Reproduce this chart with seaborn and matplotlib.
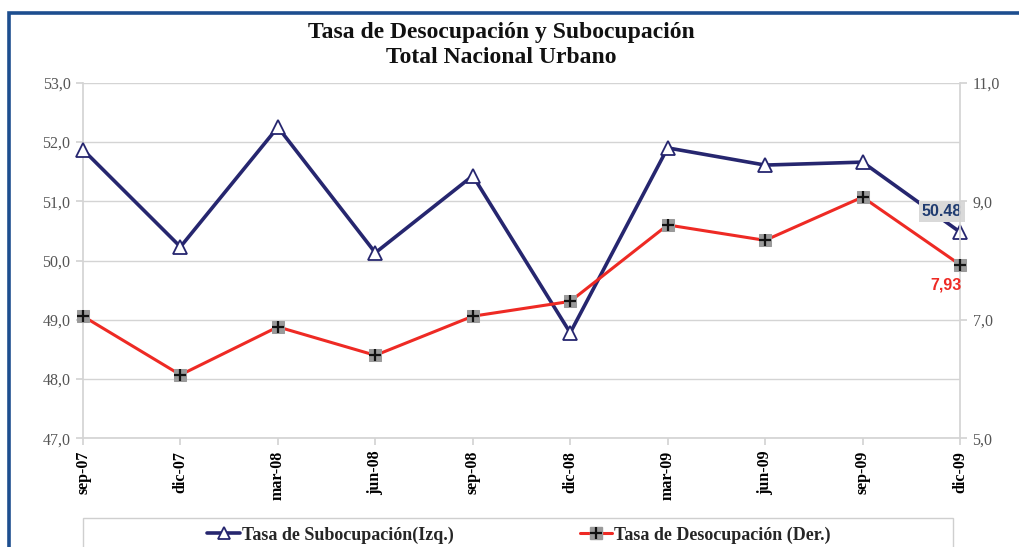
import matplotlib
matplotlib.use("Agg")
import matplotlib.pyplot as plt
from matplotlib.lines import Line2D
from matplotlib.patches import Rectangle
from matplotlib.legend_handler import HandlerTuple
from matplotlib.ticker import FuncFormatter
import seaborn as sns
import pandas as pd

# Quarterly periods
periodos = ["sep-07", "dic-07", "mar-08", "jun-08", "sep-08",
            "dic-08", "mar-09", "jun-09", "sep-09", "dic-09"]
# Underemployment rate (left axis)
subocupacion = [51.87, 50.23, 52.25, 50.13, 51.43, 48.78, 51.90, 51.61, 51.66, 50.48]
# Unemployment rate (right axis)
desocupacion = [7.06, 6.07, 6.88, 6.40, 7.06, 7.31, 8.60, 8.34, 9.07, 7.93]

left_ticks = [47, 48, 49, 50, 51, 52, 53]
right_ticks = [5, 7, 9, 11]

NAVY = "#26266f"
RED = "#ee2a24"
GRID = "#d4d4d4"
TICK_TXT = "#555555"
SERIF = "Liberation Serif"

sns.set_theme(style="white")
plt.rcParams["font.family"] = [SERIF, "DejaVu Sans"]

df = pd.DataFrame({"idx": range(len(periodos)), "periodo": periodos,
                   "sub": subocupacion, "des": desocupacion})

fig = plt.figure(figsize=(10.2, 5.47), dpi=100)
ax = fig.add_axes([83 / 1020, 1 - 438.3 / 547, (960 - 83) / 1020, (438.3 - 82.7) / 547])
ax2 = ax.twinx()

# Left series: underemployment
sns.lineplot(data=df, x="idx", y="sub", ax=ax, color=NAVY, lw=2.6,
             marker="^", markersize=10, markerfacecolor="white",
             markeredgecolor=NAVY, markeredgewidth=1.3, zorder=5, clip_on=False)

# Right series: unemployment, gray square with black cross marker
sns.lineplot(data=df, x="idx", y="des", ax=ax2, color=RED, lw=2.2,
             marker="s", markersize=8, markerfacecolor="#9a9a9a",
             markeredgecolor="#9a9a9a", zorder=4, clip_on=False)
ax2.plot(df["idx"], df["des"], ls="none", marker="+", markersize=9,
         markeredgewidth=1.6, color="#111111", zorder=6, clip_on=False)

ax.set_xlim(0, len(periodos) - 1)
ax.set_ylim(47, 53)
ax2.set_ylim(5, 11)
ax.set_yticks(left_ticks)
ax2.set_yticks(right_ticks)
fmt = FuncFormatter(lambda v, p: f"{v:.1f}".replace(".", ","))
ax.yaxis.set_major_formatter(fmt)
ax2.yaxis.set_major_formatter(fmt)

ax.set_xticks(list(df["idx"]))
ax.set_xticklabels(periodos, rotation=90, fontsize=11.5, fontweight="bold",
                   color="black", family=SERIF)
ax.set_xlabel("")
ax.set_ylabel("")
ax2.set_ylabel("")

ax.grid(axis="y", color=GRID, lw=1.0)
ax.set_axisbelow(True)
for a in (ax, ax2):
    for s in a.spines.values():
        s.set_visible(False)
ax.spines["left"].set_visible(True)
ax.spines["left"].set_color(GRID)
ax.spines["bottom"].set_visible(True)
ax.spines["bottom"].set_color(GRID)
ax2.spines["right"].set_visible(True)
ax2.spines["right"].set_color(GRID)

ax.tick_params(axis="y", left=True, length=5, color=GRID, labelsize=11.5,
               labelcolor=TICK_TXT, pad=4)
ax.tick_params(axis="x", bottom=True, length=5, color=GRID, pad=4)
ax2.tick_params(axis="y", right=True, length=5, color=GRID, labelsize=11.5,
                labelcolor=TICK_TXT, pad=4)
for lab in ax.get_yticklabels() + ax2.get_yticklabels():
    lab.set_family(SERIF)

# Value labels on the last period
last = len(periodos) - 1
ax.annotate(f"{subocupacion[-1]:.2f}", xy=(last, subocupacion[-1]),
            xytext=(-13, 15), textcoords="offset points", ha="center", va="center",
            fontsize=11.5, fontweight="bold", color="#1f3b70", family="Liberation Sans",
            bbox=dict(boxstyle="square,pad=0.2", fc="#d9d9d9", ec="none"), zorder=8)
ax2.annotate(f"{desocupacion[-1]:.2f}".replace(".", ","), xy=(last, desocupacion[-1]),
             xytext=(-10, -15), textcoords="offset points", ha="center", va="center",
             fontsize=11.5, fontweight="bold", color=RED, family="Liberation Sans",
             zorder=8)

# Title
fig.text(501 / 1020, 1 - 45 / 547,
         "Tasa de Desocupación y Subocupación\nTotal Nacional Urbano",
         ha="center", va="center", fontsize=17, fontweight="bold",
         family=SERIF, color="#111111", linespacing=1.25)

# Outer frame
fig.patches.append(Rectangle((9 / 1020, -0.2), 1.2, 1.2 - 13 / 547,
                             transform=fig.transFigure, fill=False,
                             ec="#1d4e8f", lw=2.6, zorder=0))

# Legend box
fig.patches.append(Rectangle((83 / 1020, -0.1), (953 - 83) / 1020, 0.1 + 1 - 518 / 547,
                             transform=fig.transFigure, fc="white",
                             ec="#cfcfcf", lw=1.0, zorder=1))

h_sub = Line2D([], [], color=NAVY, lw=2.6, marker="^", markersize=9,
               markerfacecolor="white", markeredgecolor=NAVY, markeredgewidth=1.3)
h_des_a = Line2D([], [], color=RED, lw=2.2, marker="s", markersize=8,
                 markerfacecolor="#9a9a9a", markeredgecolor="#9a9a9a")
h_des_b = Line2D([], [], ls="none", marker="+", markersize=9,
                 markeredgewidth=1.6, color="#111111")
leg = fig.legend([h_sub, (h_des_a, h_des_b)],
                 ["Tasa de Subocupación(Izq.)", "Tasa de Desocupación (Der.)"],
                 handler_map={tuple: HandlerTuple(ndivide=1)},
                 loc="center", bbox_to_anchor=(519 / 1020, 1 - 535 / 547),
                 ncol=2, frameon=False, handlelength=1.8, handletextpad=0.1,
                 columnspacing=7.0, prop={"family": SERIF, "weight": "bold", "size": 13})
leg.set_zorder(3)

fig.savefig("out.png", dpi=100)
